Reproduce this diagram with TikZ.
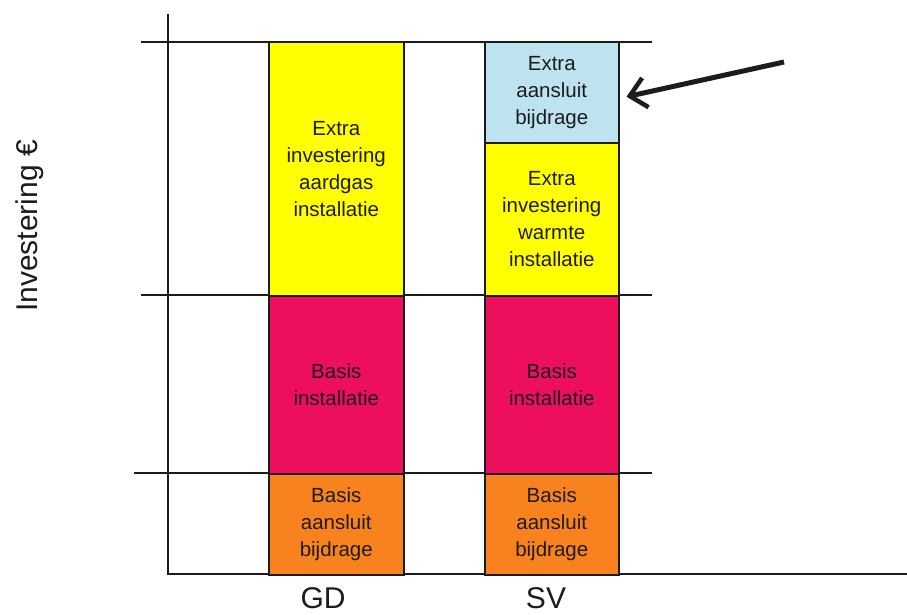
\documentclass[tikz,border=0pt]{standalone}
\usepackage{fontspec}
\setmainfont{Liberation Sans}
\usetikzlibrary{arrows.meta}
\definecolor{barYellow}{HTML}{FFFF00}
\definecolor{barMagenta}{HTML}{EE0E5E}
\definecolor{barOrange}{HTML}{F8831E}
\definecolor{barBlue}{HTML}{BEE3F0}
\definecolor{ink}{HTML}{1C1C1C}
\tikzset{
  seg/.style={draw=ink, line width=1.5pt, anchor=north west, inner sep=0pt,
    minimum width=135pt, align=center, text=ink,
    font=\fontsize{20.5pt}{27pt}\selectfont},
  axisline/.style={draw=ink, line width=1.5pt},
  catlabel/.style={font=\fontsize{30pt}{34pt}\selectfont, text=ink, inner sep=0pt},
  pointer/.style={draw=ink, line width=5pt, -{Straight Barb[length=16pt,width=30pt,line width=4.5pt]}}
}
\begin{document}
\begin{tikzpicture}[x=1pt,y=-1pt]
\useasboundingbox[fill=white] (0,0) rectangle (907,615);
% grid lines
\coordinate (g1a) at (141,42);  \coordinate (g1b) at (652,42);
\coordinate (g2a) at (141,295); \coordinate (g2b) at (652,295);
\coordinate (g3a) at (134,473); \coordinate (g3b) at (652,473);
\draw[axisline] (g1a) -- (g1b);
\draw[axisline] (g2a) -- (g2b);
\draw[axisline] (g3a) -- (g3b);
% axes
\coordinate (ytop) at (168,14);
\coordinate (origin) at (168,574);
\coordinate (xend) at (907,574);
\draw[axisline] (ytop) -- (origin) -- (xend);
% GD bar
\node[seg, fill=barYellow, minimum height=253pt] (gdy) at (268,42) {Extra\\investering\\aardgas\\installatie};
\node[seg, fill=barMagenta, minimum height=178pt] (gdm) at (268,295) {Basis\\installatie};
\node[seg, fill=barOrange, minimum height=101pt] (gdo) at (268,473) {Basis\\aansluit\\bijdrage};
% SV bar
\node[seg, fill=barBlue, minimum width=134pt, minimum height=100pt] (svb) at (484,42) {Extra\\aansluit\\bijdrage};
\node[seg, fill=barYellow, minimum width=134pt, minimum height=153pt] (svy) at (484,142) {Extra\\investering\\warmte\\installatie};
\node[seg, fill=barMagenta, minimum width=134pt, minimum height=178pt] (svm) at (484,295) {Basis\\installatie};
\node[seg, fill=barOrange, minimum width=134pt, minimum height=101pt] (svo) at (484,473) {Basis\\aansluit\\bijdrage};
% labels
\node[catlabel] (gdl) at (323,598) {GD};
\node[catlabel] (svl) at (546,598) {SV};
\node[catlabel, rotate=90] (ylab) at (30,226) {Investering €};
% arrow
\coordinate (arrtail) at (784,62);
\draw[pointer] (arrtail) -- ([xshift=7pt,yshift=-4pt]svb.east);
\end{tikzpicture}
\end{document}
